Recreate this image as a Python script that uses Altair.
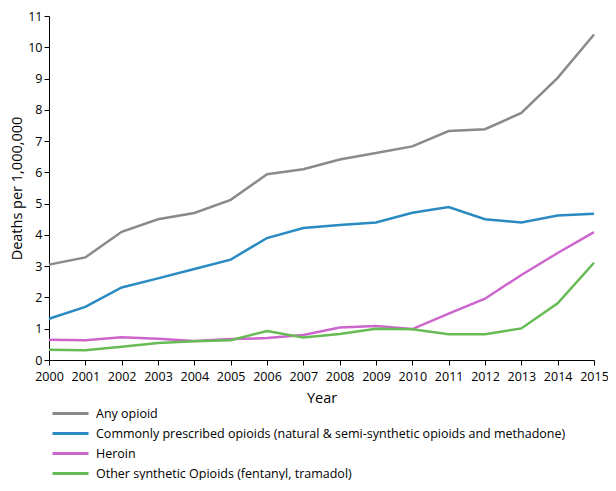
import altair as alt
import pandas as pd

years = list(range(2000, 2016))
any_opioid = [3.05, 3.28, 4.10, 4.50, 4.70, 5.12, 5.94, 6.10, 6.41, 6.62, 6.83, 7.32, 7.38, 7.90, 9.02, 10.41]
prescribed = [1.32, 1.70, 2.32, 2.61, 2.91, 3.21, 3.90, 4.22, 4.32, 4.40, 4.71, 4.89, 4.50, 4.40, 4.62, 4.68]
heroin = [0.65, 0.63, 0.73, 0.68, 0.61, 0.67, 0.70, 0.80, 1.04, 1.09, 0.99, 1.48, 1.96, 2.72, 3.42, 4.09]
synthetic = [0.33, 0.31, 0.42, 0.54, 0.60, 0.63, 0.93, 0.72, 0.83, 1.00, 0.98, 0.82, 0.82, 1.01, 1.81, 3.11]

series_names = [
    "Any opioid",
    "Commonly prescribed opioids (natural & semi-synthetic opioids and methadone)",
    "Heroin",
    "Other synthetic Opioids (fentanyl, tramadol)",
]
series_colors = ["#8a8a8a", "#2a8ac2", "#cc66cc", "#66bb55"]
y_ticks = list(range(0, 12))

rows = []
for name, vals in zip(series_names, [any_opioid, prescribed, heroin, synthetic]):
    for yr, v in zip(years, vals):
        rows.append({"Year": yr, "Value": v, "Series": name})
df = pd.DataFrame(rows)

FONT = "Open Sans"

chart = alt.Chart(df).mark_line(strokeWidth=2.5).encode(
    x=alt.X("Year:Q",
            scale=alt.Scale(domain=[2000, 2015], nice=False, zero=False),
            axis=alt.Axis(values=years, format="d", title="Year", grid=False,
                          tickSize=5, labelPadding=5, titlePadding=9,
                          domainColor="#000", tickColor="#000",
                          labelFontSize=12.5, titleFontSize=14.5,
                          labelFont=FONT, titleFont=FONT, titleFontWeight="normal",
                          labelColor="#000", titleColor="#000", labelFlush=False)),
    y=alt.Y("Value:Q",
            scale=alt.Scale(domain=[0, 11], nice=False),
            axis=alt.Axis(values=y_ticks, title="Deaths per 1,000,000", grid=False,
                          tickSize=5, labelPadding=2, titleX=-32, titleBaseline="middle",
                          domainColor="#000", tickColor="#000",
                          labelFontSize=12.5, titleFontSize=14.5,
                          labelFont=FONT, titleFont=FONT, titleFontWeight="normal",
                          labelColor="#000", titleColor="#000")),
    color=alt.Color("Series:N",
                    scale=alt.Scale(domain=series_names, range=series_colors),
                    legend=alt.Legend(orient="none", legendX=14, legendY=390,
                                      title=None, symbolType="M-3,0H3",
                                      symbolSize=144, symbolStrokeWidth=3,
                                      labelOffset=18, rowPadding=6, padding=0,
                                      labelFont=FONT, labelFontSize=12.5,
                                      labelColor="#000", labelLimit=600)),
).properties(
    width=545, height=344,
    autosize=alt.AutoSizeParams(type="none"),
    padding={"left": 41, "top": 8, "right": 14, "bottom": 120},
).configure_view(stroke=None)

chart.save("out.html", embed_options={"renderer": "svg", "actions": False})
